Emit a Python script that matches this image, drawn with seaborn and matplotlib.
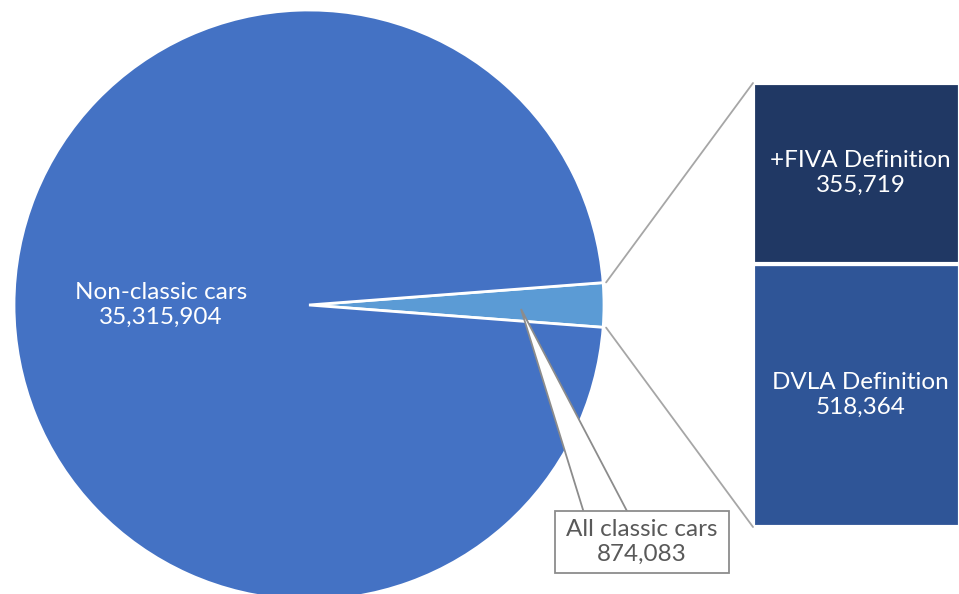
import matplotlib
matplotlib.use("Agg")
import matplotlib.pyplot as plt
import seaborn as sns
import numpy as np
from matplotlib.patches import ConnectionPatch, Polygon, Rectangle

# ---- data ----
pie_labels = ["All classic cars", "Non-classic cars"]
pie_values = [874083, 35315904]
bar_labels = ["DVLA Definition", "+FIVA Definition"]
bar_values = [518364, 355719]

pie_colors = ["#5B9BD5", "#4472C4"]
bar_colors = ["#2F5597", "#203864"]

sns.set_theme(style="white")
plt.rcParams['font.family'] = ['Lato', 'DejaVu Sans']

W, H = 959, 594
fig = plt.figure(figsize=(W / 100, H / 100), dpi=100)
fig.patch.set_facecolor("white")

def px_axes(x0, y0, x1, y1):
    return fig.add_axes([x0 / W, (H - y1) / H, (x1 - x0) / W, (y1 - y0) / H])

# ---- pie ----
cx, cy, r = 309, 305, 295
ax_pie = px_axes(cx - r, cy - r, cx + r, cy + r)

def p(xp, yp):
    return ((xp - cx) / r, -(yp - cy) / r)

small_angle = 360 * pie_values[0] / sum(pie_values)
start = -small_angle / 2
wedges, _ = ax_pie.pie(pie_values, colors=pie_colors, startangle=start,
                       counterclock=True, radius=1,
                       wedgeprops=dict(edgecolor="white", linewidth=2))
ax_pie.set_xlim(-1, 1)
ax_pie.set_ylim(-1, 1)
ax_pie.set_aspect("equal")
ax_pie.axis("off")

LS = 1.22
ax_pie.text(*p(161, 305), f"{pie_labels[1]}\n{pie_values[1]:,}", ha="center",
            va="center", color="white", fontsize=17.5, linespacing=LS)

# callout for the small slice
tip = p(521, 309)
b0 = p(584, 513)
b1 = p(628, 513)
ax_pie.add_patch(Polygon([tip, b0, b1], closed=True, fc="white", ec="#8C8C8C",
                         lw=1.3, zorder=4, clip_on=False))
bx0, by0 = p(555, 573)
bx1, by1 = p(729, 511)
ax_pie.add_patch(Rectangle((bx0, by0), bx1 - bx0, by1 - by0, fc="white",
                           ec="#8C8C8C", lw=1.3, zorder=5, clip_on=False))
ax_pie.text((bx0 + bx1) / 2, (by0 + by1) / 2, f"{pie_labels[0]}\n{pie_values[0]:,}",
            ha="center", va="center", color="#595959", fontsize=17.5,
            linespacing=LS, zorder=6)

# ---- bar ----
ax_bar = px_axes(753, 83, 960, 527)
bottom = 0
total = sum(bar_values)
for lab, val, col in zip(bar_labels, bar_values, bar_colors):
    ax_bar.bar(0, val, bottom=bottom, width=1, color=col,
               edgecolor="white", linewidth=3)
    ax_bar.text(0.02, bottom + val / 2, f"{lab}\n{val:,}", ha="center",
                va="center", color="white", fontsize=17.5, linespacing=LS)
    bottom += val
ax_bar.set_xlim(-0.5, 0.5)
ax_bar.set_ylim(0, total)
ax_bar.axis("off")

# ---- connector lines ----
t1 = np.deg2rad(start + small_angle)
t0 = np.deg2rad(start)
for ang, yb in [(t1, total), (t0, 0)]:
    con = ConnectionPatch(xyA=(1.01 * np.cos(ang), 1.01 * np.sin(ang)), coordsA=ax_pie.transData,
                          xyB=(-0.5, yb), coordsB=ax_bar.transData,
                          color="#A6A6A6", lw=1.3)
    fig.add_artist(con)

fig.savefig("out.png", dpi=100, facecolor="white")
